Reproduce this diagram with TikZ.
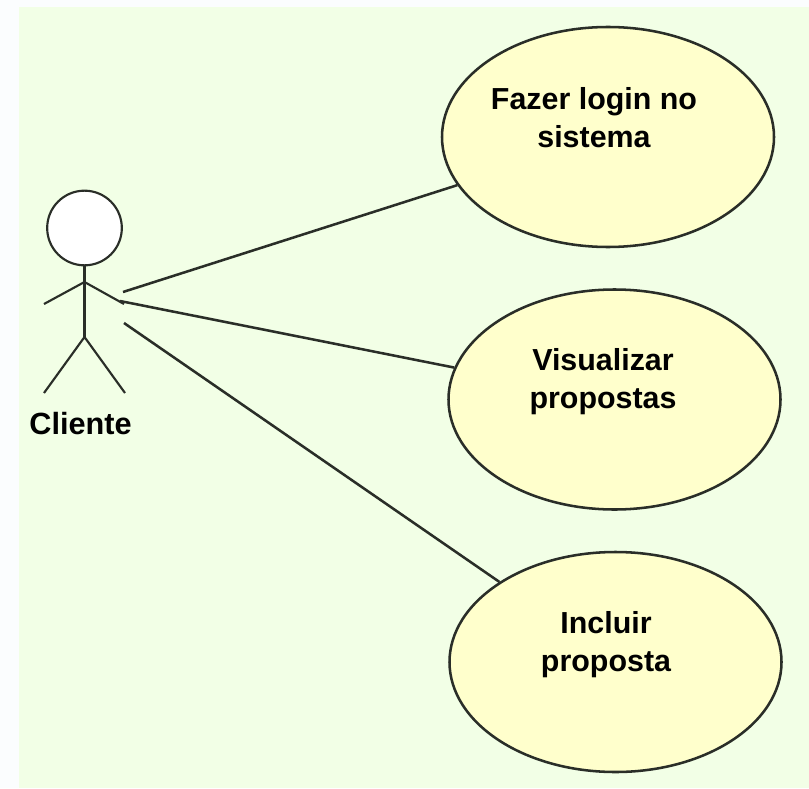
\documentclass[tikz,border=0pt]{standalone}
\usepackage{fontspec}
\setmainfont{Liberation Sans}
\usetikzlibrary{shapes.geometric}
\definecolor{panel}{HTML}{F2FFE6}
\definecolor{pagebg}{HTML}{FBFDFE}
\definecolor{usefill}{HTML}{FFFFCC}
\definecolor{ink}{HTML}{2A2E28}
\tikzset{
 x=0.75pt,y=-0.75pt,
 usecase/.style={ellipse,draw=ink,line width=1.9pt,fill=usefill,minimum width=249pt,minimum height=165pt,inner sep=0pt},
 lbl/.style={font=\bfseries\fontsize{22.8pt}{28.5pt}\selectfont,align=center,text=black,inner sep=0pt},
 link/.style={draw=ink,line width=1.9pt},
 stick/.style={draw=ink,line width=1.6pt}
}
\begin{document}
\begin{tikzpicture}
\useasboundingbox (0,0) rectangle (809,788);
\fill[pagebg] (0,0) rectangle (809,788);
\fill[panel] (19,7) rectangle (809,788);
\node[usecase] (a) at (608,137) {};
\node[usecase] (b) at (614.5,399.5) {};
\node[usecase] (c) at (615.5,662) {};
\node[lbl] (ta) at (594,118) {Fazer login no\\sistema};
\node[lbl] (tb) at (603,382) {Visualizar\\propostas};
\node[lbl] (tc) at (606,645) {Incluir\\proposta};
\node[circle,draw=ink,line width=1.6pt,fill=white,minimum size=56pt,inner sep=0pt] (head) at (84.5,228) {};
\coordinate (neck) at (84.5,282);
\coordinate (hip) at (84.5,337);
\coordinate (hl) at (44,304);
\coordinate (hr) at (124,304);
\coordinate (fl) at (44,393);
\coordinate (fr) at (125,393);
\draw[stick] (head.south) -- (hip);
\draw[stick] (hl) -- (neck) -- (hr);
\draw[stick] (fl) -- (hip) -- (fr);
\node[font=\bfseries\fontsize{23pt}{24pt}\selectfont,inner sep=0pt] (actor) at (80.5,424) {Cliente};
\coordinate (s1) at (123,292);
\coordinate (s2) at (120,301);
\coordinate (s3) at (124,323);
\draw[link] (s1) -- (a);
\draw[link] (s2) -- (b);
\draw[link] (s3) -- (c);
\end{tikzpicture}
\end{document}
